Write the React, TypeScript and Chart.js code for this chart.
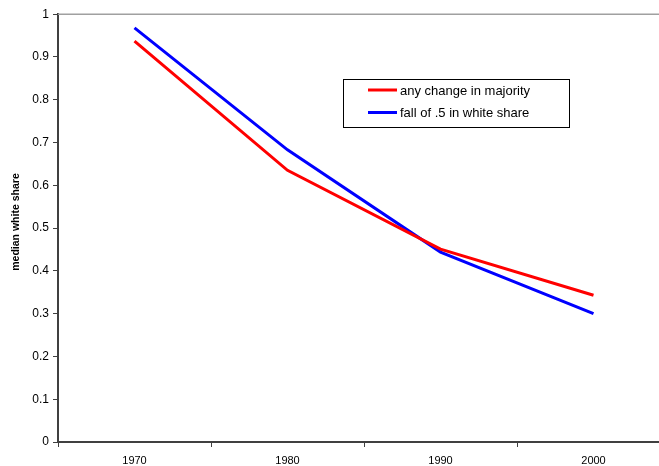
import React, { useEffect, useRef } from "react";
import { Chart, registerables } from "chart.js";

Chart.register(...registerables);

const years = ["1970", "1980", "1990", "2000"];
const anyChangeInMajority = [0.937, 0.635, 0.451, 0.343];
const fallInWhiteShare = [0.968, 0.683, 0.444, 0.300];
const seriesNames = ["any change in majority", "fall of .5 in white share"];
const seriesColors = ["#ff0000", "#0000ff"];
const yTitle = "median white share";

const FONT = "'Liberation Sans', Arial, Helvetica, sans-serif";

// Axis title, framed legend box inside the plot and the light top border line.
const boxLegend = {
  id: "boxLegend",
  afterDraw(chart: any) {
    const { ctx, chartArea } = chart;
    ctx.save();
    // top border of the plot
    ctx.strokeStyle = "#a0a0a0";
    ctx.lineWidth = 1.5;
    ctx.beginPath();
    ctx.moveTo(chartArea.left, chartArea.top);
    ctx.lineTo(chart.width, chartArea.top);
    ctx.stroke();

    // vertical axis title
    ctx.save();
    ctx.translate(16.5, 219);
    ctx.rotate(-Math.PI / 2);
    ctx.font = `bold 10.5px ${FONT}`;
    ctx.fillStyle = "#000000";
    ctx.textAlign = "center";
    ctx.textBaseline = "middle";
    ctx.fillText(yTitle, 0, 0);
    ctx.restore();

    const x0 = 343.5;
    const y0 = 76.5;
    const w = 226;
    const h = 48;
    ctx.fillStyle = "#ffffff";
    ctx.fillRect(x0, y0, w, h);
    ctx.strokeStyle = "#000000";
    ctx.lineWidth = 1;
    ctx.strokeRect(x0, y0, w, h);

    ctx.font = `13px ${FONT}`;
    ctx.textBaseline = "middle";
    ctx.textAlign = "left";
    chart.data.datasets.forEach((ds: any, i: number) => {
      const y = y0 + 10.5 + i * 22.5;
      ctx.strokeStyle = ds.borderColor;
      ctx.lineWidth = 3;
      ctx.beginPath();
      ctx.moveTo(x0 + 24.5, y);
      ctx.lineTo(x0 + 53.5, y);
      ctx.stroke();
      ctx.fillStyle = "#000000";
      ctx.fillText(ds.label, x0 + 56.5, y + 1);
    });
    ctx.restore();
  },
};

export default function App() {
  const canvasRef = useRef<HTMLCanvasElement | null>(null);

  useEffect(() => {
    if (!canvasRef.current) return;
    const chart = new Chart(canvasRef.current, {
      type: "line",
      data: {
        labels: years,
        datasets: [
          {
            label: seriesNames[0],
            data: anyChangeInMajority,
            borderColor: seriesColors[0],
            backgroundColor: seriesColors[0],
            borderWidth: 3,
            pointRadius: 0,
            tension: 0,
          },
          {
            label: seriesNames[1],
            data: fallInWhiteShare,
            borderColor: seriesColors[1],
            backgroundColor: seriesColors[1],
            borderWidth: 3,
            pointRadius: 0,
            tension: 0,
          },
        ],
      },
      options: {
        responsive: false,
        animation: false,
        layout: { padding: { top: 7, right: 10, left: 0, bottom: 0 } },
        plugins: {
          legend: { display: false },
          tooltip: { enabled: false },
        },
        scales: {
          x: {
            offset: true,
            grid: {
              offset: true,
              drawOnChartArea: false,
              drawTicks: true,
              tickLength: 5,
              tickColor: "#404040",
              tickWidth: 1,
            },
            border: { color: "#404040", width: 2 },
            ticks: {
              color: "#000000",
              font: { family: FONT, size: 11 },
              padding: 7,
              maxRotation: 0,
            },
            afterFit(scale: any) {
              scale.height = 24;
            },
          },
          y: {
            min: 0,
            max: 1,
            grid: {
              drawOnChartArea: false,
              drawTicks: true,
              tickLength: 5,
              tickColor: "#404040",
              tickWidth: 1,
            },
            border: { color: "#404040", width: 2 },
            ticks: {
              stepSize: 0.1,
              color: "#000000",
              font: { family: FONT, size: 12 },
              padding: 4,
              callback: (v: any) => String(Number(Number(v).toFixed(1))),
            },
            afterFit(scale: any) {
              scale.width = 58;
            },
          },
        },
      },
      plugins: [boxLegend],
    });
    return () => chart.destroy();
  }, []);

  return (
    <div style={{ width: 643, height: 458 }}>
      <div
        style={{
          position: "fixed",
          left: 0,
          top: 0,
          width: 659,
          height: 466,
          overflow: "hidden",
          background: "#ffffff",
        }}
      >
        <canvas
          ref={canvasRef}
          width={680}
          height={463}
          style={{ display: "block", marginTop: 3 }}
        />
      </div>
    </div>
  );
}
